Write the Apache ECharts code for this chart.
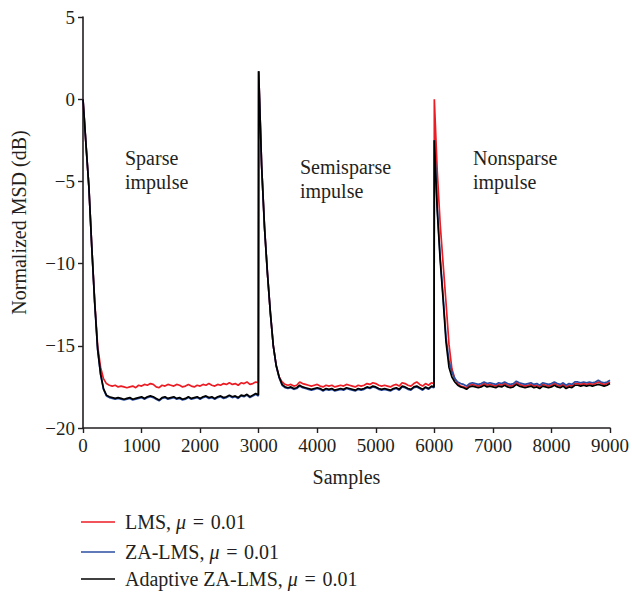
<!DOCTYPE html>
<html>
<head>
<meta charset="utf-8">
<script src="https://cdn.jsdelivr.net/npm/echarts@6/dist/echarts.min.js"></script>
<style>html,body{margin:0;padding:0;background:#fff;}#c{width:632px;height:594px;}</style>
</head>
<body>
<div id="c"></div>
<script>
// x positions (samples)
var samples = [
  0,50,100,150,200,250,300,350,400,450,
  500,550,600,650,700,750,800,850,900,950,
  1000,1050,1100,1150,1200,1250,1300,1350,1400,1450,
  1500,1550,1600,1650,1700,1750,1800,1850,1900,1950,
  2000,2050,2100,2150,2200,2250,2300,2350,2400,2450,
  2500,2550,2600,2650,2700,2750,2800,2850,2900,2950,
  2995,
  3000,3050,3100,3150,3200,3250,3300,3350,3400,3450,
  3500,3550,3600,3650,3700,3750,3800,3850,3900,3950,
  4000,4050,4100,4150,4200,4250,4300,4350,4400,4450,
  4500,4550,4600,4650,4700,4750,4800,4850,4900,4950,
  5000,5050,5100,5150,5200,5250,5300,5350,5400,5450,
  5500,5550,5600,5650,5700,5750,5800,5850,5900,5950,
  5995,
  6000,6050,6100,6150,6200,6250,6300,6350,6400,6450,
  6500,6550,6600,6650,6700,6750,6800,6850,6900,6950,
  7000,7050,7100,7150,7200,7250,7300,7350,7400,7450,
  7500,7550,7600,7650,7700,7750,7800,7850,7900,7950,
  8000,8050,8100,8150,8200,8250,8300,8350,8400,8450,
  8500,8550,8600,8650,8700,8750,8800,8850,8900,8950,
  9000
];

// LMS, mu = 0.01 (dB)
var lms = [
  0,-2.7,-5.3,-9.0,-12.3,-15.0,-16.3,-17.0,-17.3,-17.4,
  -17.45,-17.4,-17.5,-17.45,-17.5,-17.55,-17.5,-17.45,-17.55,-17.4,
  -17.45,-17.35,-17.4,-17.3,-17.35,-17.5,-17.55,-17.4,-17.45,-17.35,
  -17.4,-17.45,-17.35,-17.4,-17.5,-17.45,-17.35,-17.45,-17.5,-17.4,
  -17.45,-17.35,-17.4,-17.3,-17.4,-17.45,-17.35,-17.4,-17.3,-17.35,
  -17.25,-17.35,-17.3,-17.4,-17.25,-17.3,-17.2,-17.35,-17.3,-17.2,
  -17.25,
  1.7,-4.0,-7.8,-10.6,-13.0,-15.0,-16.2,-16.9,-17.2,-17.35,
  -17.4,-17.35,-17.45,-17.4,-17.2,-17.3,-17.35,-17.4,-17.45,-17.4,
  -17.35,-17.45,-17.5,-17.4,-17.45,-17.4,-17.5,-17.45,-17.4,-17.45,
  -17.35,-17.4,-17.45,-17.5,-17.4,-17.45,-17.4,-17.3,-17.35,-17.25,
  -17.3,-17.4,-17.45,-17.4,-17.45,-17.5,-17.4,-17.35,-17.45,-17.25,
  -17.3,-17.4,-17.45,-17.3,-17.2,-17.35,-17.45,-17.3,-17.4,-17.25,
  -17.3,
  0,-4.4,-7.6,-10.0,-12.4,-14.9,-16.4,-17.0,-17.3,-17.45,
  -17.5,-17.55,-17.4,-17.35,-17.4,-17.45,-17.4,-17.3,-17.4,-17.35,
  -17.4,-17.45,-17.35,-17.4,-17.3,-17.4,-17.45,-17.4,-17.25,-17.35,
  -17.4,-17.45,-17.4,-17.35,-17.45,-17.4,-17.5,-17.35,-17.4,-17.45,
  -17.4,-17.3,-17.4,-17.45,-17.35,-17.5,-17.4,-17.45,-17.3,-17.3,
  -17.35,-17.3,-17.35,-17.3,-17.35,-17.3,-17.2,-17.3,-17.35,-17.3,
  -17.2
];

// ZA-LMS, mu = 0.01 (dB)
var zaLms = [
  0,-2.7,-5.3,-9.0,-12.4,-15.25,-16.75,-17.65,-18.05,-18.15,
  -18.2,-18.25,-18.2,-18.25,-18.3,-18.25,-18.2,-18.3,-18.25,-18.2,
  -18.15,-18.25,-18.15,-18.1,-18.15,-18.25,-18.35,-18.2,-18.15,-18.25,
  -18.2,-18.15,-18.25,-18.2,-18.3,-18.25,-18.15,-18.25,-18.2,-18.15,
  -18.25,-18.15,-18.1,-18.2,-18.15,-18.25,-18.15,-18.1,-18.2,-18.15,
  -18.05,-18.15,-18.1,-18.2,-18.05,-18.1,-18.0,-18.15,-18.05,-17.95,
  -18.05,
  1.7,-4.0,-7.8,-10.6,-13.0,-15.0,-16.25,-16.95,-17.4,-17.55,
  -17.6,-17.55,-17.65,-17.6,-17.45,-17.55,-17.6,-17.65,-17.7,-17.65,
  -17.6,-17.65,-17.75,-17.65,-17.7,-17.65,-17.75,-17.7,-17.65,-17.7,
  -17.6,-17.65,-17.7,-17.75,-17.65,-17.7,-17.65,-17.55,-17.6,-17.5,
  -17.55,-17.65,-17.7,-17.65,-17.7,-17.75,-17.65,-17.6,-17.7,-17.5,
  -17.55,-17.65,-17.7,-17.55,-17.5,-17.6,-17.7,-17.55,-17.65,-17.5,
  -17.55,
  -2.5,-6.6,-9.6,-12.0,-14.5,-15.9,-16.6,-17.0,-17.2,-17.3,
  -17.35,-17.45,-17.3,-17.25,-17.3,-17.35,-17.3,-17.2,-17.3,-17.25,
  -17.3,-17.35,-17.25,-17.3,-17.2,-17.3,-17.35,-17.3,-17.15,-17.25,
  -17.3,-17.35,-17.3,-17.25,-17.35,-17.3,-17.4,-17.25,-17.3,-17.35,
  -17.3,-17.2,-17.3,-17.35,-17.25,-17.4,-17.3,-17.35,-17.2,-17.2,
  -17.25,-17.2,-17.25,-17.2,-17.25,-17.2,-17.1,-17.2,-17.25,-17.2,
  -17.1
];

// Adaptive ZA-LMS, mu = 0.01 (dB)
var adaptiveZaLms = [
  0,-2.7,-5.3,-9.0,-12.4,-15.2,-16.7,-17.6,-18.0,-18.1,
  -18.15,-18.2,-18.15,-18.2,-18.25,-18.2,-18.15,-18.25,-18.2,-18.15,
  -18.1,-18.2,-18.1,-18.05,-18.1,-18.2,-18.3,-18.15,-18.1,-18.2,
  -18.15,-18.1,-18.2,-18.15,-18.25,-18.2,-18.1,-18.2,-18.15,-18.1,
  -18.2,-18.1,-18.05,-18.15,-18.1,-18.2,-18.1,-18.05,-18.15,-18.1,
  -18.0,-18.1,-18.05,-18.15,-18.0,-18.05,-17.95,-18.1,-18.0,-17.9,
  -18.0,
  1.7,-4.0,-7.8,-10.6,-13.0,-15.0,-16.2,-16.9,-17.35,-17.5,
  -17.55,-17.5,-17.6,-17.55,-17.4,-17.5,-17.55,-17.6,-17.65,-17.6,
  -17.55,-17.6,-17.7,-17.6,-17.65,-17.6,-17.7,-17.65,-17.6,-17.65,
  -17.55,-17.6,-17.65,-17.7,-17.6,-17.65,-17.6,-17.5,-17.55,-17.45,
  -17.5,-17.6,-17.65,-17.6,-17.65,-17.7,-17.6,-17.55,-17.65,-17.45,
  -17.5,-17.6,-17.65,-17.5,-17.45,-17.55,-17.65,-17.5,-17.6,-17.45,
  -17.5,
  -2.5,-6.8,-9.8,-12.2,-14.8,-16.3,-16.9,-17.2,-17.4,-17.5,
  -17.55,-17.65,-17.5,-17.45,-17.5,-17.55,-17.5,-17.4,-17.5,-17.45,
  -17.5,-17.55,-17.45,-17.5,-17.4,-17.5,-17.55,-17.5,-17.35,-17.45,
  -17.5,-17.55,-17.5,-17.45,-17.55,-17.5,-17.6,-17.45,-17.5,-17.55,
  -17.5,-17.4,-17.5,-17.55,-17.45,-17.6,-17.5,-17.55,-17.4,-17.4,
  -17.45,-17.4,-17.45,-17.4,-17.45,-17.4,-17.35,-17.4,-17.45,-17.4,
  -17.3
];

var seriesNames = ['LMS', 'ZA-LMS', 'Adaptive ZA-LMS'];
var muText = '0.01';
var annotations = ['Sparse\nimpulse', 'Semisparse\nimpulse', 'Nonsparse\nimpulse'];
var xAxisName = 'Samples';
var yAxisName = 'Normalized MSD (dB)';

var FONT = '"Liberation Serif", "DejaVu Serif", serif';
var TXT = '#231f20';

function pairs(arr) { return samples.map(function (x, i) { return [x, arr[i]]; }); }

var chart = echarts.init(document.getElementById('c'), null, {renderer: 'svg'});

var legendTops = [512, 542, 569];
var colors = ['#ec1c24', '#2b4ea2', '#000000'];

var option = {
  animation: false,
  backgroundColor: '#fff',
  grid: {left: 83, top: 17, width: 529, height: 411, containLabel: false},
  xAxis: {
    type: 'value', min: 0, max: 9000, interval: 1000,
    name: xAxisName, nameLocation: 'middle', nameGap: 39,
    nameTextStyle: {fontFamily: FONT, fontSize: 20, color: TXT},
    axisLine: {show: true, onZero: false, lineStyle: {color: '#231f20', width: 1.6}},
    axisTick: {show: true, inside: false, length: 5, lineStyle: {color: '#231f20', width: 1.4}},
    axisLabel: {fontFamily: FONT, fontSize: 19, color: TXT, margin: 8,
      formatter: function (v) { return String(v); }},
    splitLine: {show: false}
  },
  yAxis: {
    type: 'value', min: -20, max: 5, interval: 5,
    name: yAxisName, nameLocation: 'middle', nameGap: 54, nameRotate: 90,
    nameTextStyle: {fontFamily: FONT, fontSize: 20, color: TXT},
    axisLine: {show: true, onZero: false, lineStyle: {color: '#231f20', width: 1.6}},
    axisTick: {show: true, inside: false, length: 5, lineStyle: {color: '#231f20', width: 1.4}},
    axisLabel: {fontFamily: FONT, fontSize: 19, color: TXT, margin: 8,
      formatter: function (v) { return String(v).replace('-', '\u2212'); }},
    splitLine: {show: false}
  },
  legend: seriesNames.map(function (n, i) {
    return {
      data: [n], left: 81, top: legendTops[i], orient: 'vertical', padding: 0,
      icon: 'rect', itemWidth: 34, itemHeight: 1.5,
      textStyle: {fontFamily: FONT, fontSize: 20, color: TXT, padding: [0, 0, 0, 5],
        rich: {i: {fontFamily: FONT, fontSize: 20, fontStyle: 'italic', color: TXT}}},
      formatter: function (name) { return name + ', {i|\u03bc} \u200a= \u200a' + muText; }
    };
  }),
  series: [
    {name: seriesNames[0], type: 'line', data: pairs(lms), symbol: 'none', color: colors[0],
      lineStyle: {width: 1.7, color: colors[0]}, z: 2},
    {name: seriesNames[1], type: 'line', data: pairs(zaLms), symbol: 'none', color: colors[1],
      lineStyle: {width: 1.7, color: colors[1]}, z: 3},
    {name: seriesNames[2], type: 'line', data: pairs(adaptiveZaLms), symbol: 'none', color: colors[2],
      lineStyle: {width: 1.7, color: colors[2]}, z: 4}
  ],
  graphic: [
    {type: 'text', left: 125, top: 146, style: {text: annotations[0], fontFamily: FONT, fontSize: 20, fill: TXT, lineHeight: 24}},
    {type: 'text', left: 300, top: 155, style: {text: annotations[1], fontFamily: FONT, fontSize: 20, fill: TXT, lineHeight: 24}},
    {type: 'text', left: 473, top: 146, style: {text: annotations[2], fontFamily: FONT, fontSize: 20, fill: TXT, lineHeight: 24}}
  ]
};
chart.setOption(option);
</script>
</body>
</html>
